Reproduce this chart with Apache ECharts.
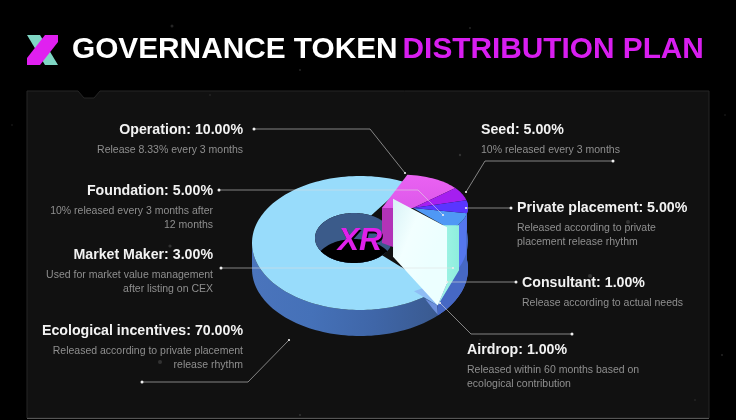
<!DOCTYPE html>
<html><head><meta charset="utf-8">
<style>html,body{margin:0;padding:0;background:#000}#c{width:736px;height:420px}</style>
<script src="https://cdn.jsdelivr.net/npm/echarts@6/dist/echarts.min.js"></script>
</head><body><div id="c"></div>
<script>
// ---- data ----
const categories = ['Ecological incentives','Operation','Seed','Private placement','Foundation','Market Maker','Consultant','Airdrop'];
const shares = [70,10,5,5,5,3,1,1];
const notes = [
 ['Released according to private placement','release rhythm'],
 ['Release 8.33% every 3 months'],
 ['10% released every 3 months'],
 ['Released according to private','placement release rhythm'],
 ['10% released every 3 months after','12 months'],
 ['Used for market value management','after listing on CEX'],
 ['Release according to actual needs'],
 ['Released within 60 months based on','ecological contribution']
];
const titleWhite = 'GOVERNANCE TOKEN';
const titlePink = 'DISTRIBUTION PLAN';
const centerMark = 'XR';

// ---- layout (label anchor: x, align, y of heading; leader polyline) ----
const labelLayout = [
 {x:243,a:'right',y:331,line:[[142,382],[248,382],[289,340]]},
 {x:243,a:'right',y:130,line:[[254,129],[370,129],[405,173]]},
 {x:481,a:'left', y:130,line:[[613,161],[485,161],[466,192]]},
 {x:517,a:'left', y:208,line:[[511,208],[466,208]]},
 {x:213,a:'right',y:191,line:[[219,190],[418,190],[443,215]]},
 {x:213,a:'right',y:255,line:[[221,268],[453,268]]},
 {x:522,a:'left', y:283,line:[[516,282],[447,282]]},
 {x:467,a:'left', y:350,line:[[572,334],[471,334],[440,303]]}
];
const FONT = '"Liberation Sans", Arial, sans-serif';
const geo = {cx:360,cy:243,rx:108,ry:67,depth:26,hx:354,hy:238,hrx:39,hry:25,start:134};
const liftSlope = 0.43;

// ---- angles from the shares ----
const total = shares.reduce((a,b)=>a+b,0);
const angles = []; { let t = geo.start; shares.forEach(v=>{ const s=v/total*360; angles.push([t,t+s]); t+=s; }); }

const R = d=>d*Math.PI/180;
function P(th,r,z){ return [geo.cx+r*geo.rx*Math.sin(R(th)), geo.cy-r*geo.ry*Math.cos(R(th))-(z||0)]; }
function H(th){ return [geo.hx+geo.hrx*Math.sin(R(th)), geo.hy-geo.hry*Math.cos(R(th))]; }
function arc(a,b,fn){ const n=Math.max(4,Math.ceil(Math.abs(b-a)/2)),o=[]; for(let i=0;i<=n;i++){o.push(fn(a+(b-a)*i/n));} return o; }
function lift(th){ return 8+(th%360-26)*liftSlope; }
const poly=(points,fill,z2,extra)=>({type:'polygon',z2,shape:{points},style:Object.assign({fill},extra||{})});
const grad=(x,y,x2,y2,c)=>new echarts.graphic.LinearGradient(x,y,x2,y2,c.map((k,i)=>({offset:i/(c.length-1),color:k})));

function holeFloor(){
  const top=[],bot=[];
  for(let x=geo.hx-geo.hrx;x<=geo.hx+geo.hrx;x+=1.5){
    const k=Math.sqrt(Math.max(0,1-Math.pow((x-geo.hx)/geo.hrx,2)))*geo.hry;
    const yt=Math.max(geo.hy-k,geo.hy+geo.depth-k), yb=Math.min(geo.hy+k,geo.hy+geo.depth+k);
    if(yt<yb){top.push([x,yt]);bot.unshift([x,yb]);}
  }
  return top.concat(bot);
}
const hub = ()=>[413,208];

function sliceShapes(i){
  const [a,b]=angles[i], out=[], e=geo.start+360;
  if(i===0){
    out.push(poly(arc(a,270,t=>P(t,1,0)).concat(arc(270,a,t=>P(t,1,-geo.depth))),
      grad(0,0.5,1,0.7,['#4a74bc','#4571b8','#3f66a8','#3a5a90']),1));
    out.push(poly(arc(a,b,t=>P(t,1,0)).concat(arc(b,a,H)),'#98dcfb',3));
    out.push(poly(arc(0,360,H),'#3b5b8a',4));
    out.push(poly(holeFloor(),'#000000',5));
  } else if(i===1){
    const inner=[382,208], top=[393,199];
    out.push(poly([inner,top,[top[0],top[1]+48],[inner[0],inner[1]+35]],'#b233b8',8));
    out.push(poly(arc(a,b,t=>P(t,1,lift(t))).concat([hub(),inner]),grad(0,0,0,1,['#ea62f2','#dd58ea']),9));
  } else if(i===2){
    out.push(poly(arc(a,b,t=>P(t,1,lift(t))).concat([hub()]),'#a51ff0',10));
  } else if(i===3||i===4){
    const wallEnd=i===3?b:e;
    out.push(poly(arc(a,wallEnd,t=>P(t,1,lift(t))).concat(arc(wallEnd,a,t=>P(t,1,-geo.depth))),'#5577ee',6));
    out.push(poly(arc(a,wallEnd,t=>P(t,1,2)).concat(arc(wallEnd,a,t=>P(t,1,-geo.depth))),'#4668c4',7));
    if(i===3) out.push(poly(arc(a,b,t=>P(t,1,lift(t))).concat([hub()]),'#5a35ff',11));
    else out.push(poly(arc(a,b,t=>P(t,1,lift(t))).concat([P(e,1.12,68),hub()]),'#4f98f5',10));
  } else if(i===5){
    const t0=P(e,1.12,68);
    out.push(poly([P(e,0.425,64),t0,[t0[0],t0[1]+56],P(e,1.0,-16),P(e,0.425,6)],
      grad(0,0,1,0.2,['#d8f2f6','#f2ffff','#ecffff']),16));
  } else if(i===6){
    const t0=P(e,1.12,68), b0=P(e,1.0,-16);
    out.push(poly([[t0[0]-4,t0[1]-2],[t0[0]+12,t0[1]-2],[t0[0]+12,t0[1]+43],b0,[t0[0],t0[1]+56]],
      grad(0,0,1,0,['#a5f5e8','#8eeedd']),15));
  } else if(i===7){
    out.push(poly([P(e,0.695,-16),P(e,0.99,6),P(e,0.99,-16)],'#8fbdf5',14));
    out.push(poly([P(e,0.84,-17),P(e,0.99,-16),P(e,1.0,-25),P(e,0.93,-22)],'#6d8fdc',14));
  }
  return {type:'group',children:out};
}

function labelShapes(i){
  const L=labelLayout[i], ch=[];
  ch.push({type:'polyline',z2:20,shape:{points:L.line},style:{stroke:'rgba(225,225,225,0.7)',lineWidth:0.8,fill:null}});
  [L.line[0],L.line[L.line.length-1]].forEach((p,k)=>ch.push({type:'circle',z2:21,shape:{cx:p[0],cy:p[1],r:k?1.1:1.5},style:{fill:'#eeeeee'}}));
  ch.push({type:'text',z2:22,style:{x:L.x,y:L.y+0.5,text:categories[i]+': '+shares[i].toFixed(2)+'%',fill:'#f2f2f2',align:L.a,verticalAlign:'middle',font:'bold 14.2px '+FONT}});
  notes[i].forEach((t,k)=>ch.push({type:'text',z2:22,style:{x:L.x,y:L.y+20+k*14.5,text:t,fill:'#8f8f8f',align:L.a,verticalAlign:'middle',font:'10.5px '+FONT}}));
  return {type:'group',children:ch};
}

const stars=[[172,26,1.5],[85,40,1],[470,28,1],[300,70,1],[628,222,2],[590,276,2],[170,246,1.6],[163,132,1],[160,362,2],[460,155,1.2],[480,340,0.8],[300,415,1],[725,115,0.8],[722,355,1],[12,125,0.8],[695,400,0.8],[210,95,0.8]];

const chart=echarts.init(document.getElementById('c'),null,{renderer:'canvas'});
chart.setOption({
 backgroundColor:'#000',
 animation:false,
 title:{left:72,top:35,padding:0,
  text:'{a|'+titleWhite+'} {b|'+titlePink+'}',
  textStyle:{rich:{a:{color:'#ffffff',fontSize:29.8,fontWeight:'bold',fontFamily:FONT},b:{color:'#d81ef0',fontSize:29.8,fontWeight:'bold',fontFamily:FONT}}}},
 graphic:[
  {type:'polygon',z:0,shape:{points:[[27,91],[78,91],[84,98],[94,98],[100,91],[709,91],[709,418],[27,418]]},style:{fill:'#111111',stroke:'#262626',lineWidth:1}},
  {type:'line',shape:{x1:27,y1:418.5,x2:709,y2:418.5},style:{stroke:'#555',lineWidth:1}},
  {type:'polygon',shape:{points:[[27,35],[40,35],[58,65],[45,65]]},style:{fill:'#7fd6c4'}},
  {type:'polygon',shape:{points:[[45,35],[58,35],[58,42],[40,65],[27,65],[27,58]]},style:{fill:'#e020f0'}},
  ...stars.map(s=>({type:'circle',shape:{cx:s[0],cy:s[1],r:s[2]},style:{fill:'rgba(255,255,255,0.14)'}}))
 ],
 series:[
  {type:'custom',coordinateSystem:'none',silent:true,z:3,clip:false,
   data:categories.map((c,i)=>({name:c,value:shares[i]})),
   renderItem:(p,api)=>sliceShapes(p.dataIndex)},
  {type:'custom',coordinateSystem:'none',silent:true,z:6,clip:false,
   data:categories.map((c,i)=>({name:c,value:shares[i]})),
   renderItem:(p,api)=>labelShapes(p.dataIndex)},
  {type:'custom',coordinateSystem:'none',silent:true,z:5,clip:false,data:[centerMark],
   renderItem:()=>({type:'group',children:[
     {type:'text',style:{x:361,y:243,text:centerMark,fill:'#000',align:'center',verticalAlign:'middle',font:'italic bold 32px '+FONT}},
     {type:'text',style:{x:360,y:241.5,text:centerMark,fill:'#e020ea',align:'center',verticalAlign:'middle',font:'italic bold 32px '+FONT}}
   ]})}
 ]
});
</script></body></html>
